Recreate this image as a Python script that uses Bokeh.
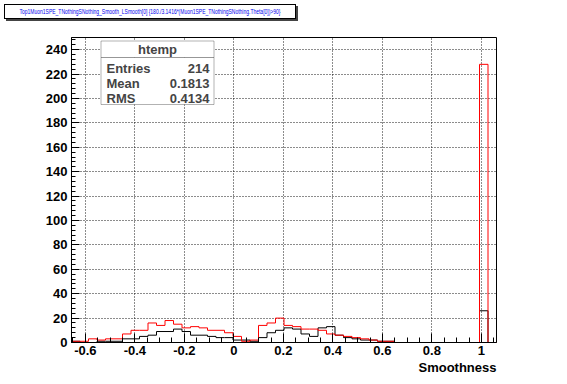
import numpy as np
from bokeh.plotting import figure
from bokeh.layouts import column
from bokeh.models import Range1d, FixedTicker, Label, BoxAnnotation, CustomJSTickFormatter, Title, Div
from bokeh.embed import file_html
from bokeh.resources import INLINE

# ---------------- data ----------------
title_text = "Top1Muon1SPE_TNothingSNothing_Smooth_LSmooth[0] {180./3.1416*(Muon1SPE_TNothingSNothing.Theta[0])>90}"
x_title = "Smoothness"
hist_min = -0.656
hist_max = 1.061
n_bins = 50
black_counts = [1, 0, 0, 1, 1, 1, 3, 3, 5, 6,
                9, 9, 11, 9, 6, 6, 5, 4, 4, 2,
                2, 1, 4, 8, 10, 12, 11, 7, 5, 12,
                13, 6, 4, 3, 2, 2, 1, 1, 0, 0,
                0, 0, 0, 0, 0, 0, 0, 0, 26, 0]
red_counts = [1, 1, 3, 2, 3, 3, 7, 10, 10, 16,
              14, 18, 15, 12, 13, 12, 10, 10, 8, 5,
              1, 2, 14, 16, 20, 14, 13, 11, 11, 10,
              7, 6, 5, 4, 3, 2, 1, 1, 0, 0,
              0, 0, 0, 0, 0, 0, 0, 0, 228, 0]
x_ticks = [-0.6, -0.4, -0.2, 0.0, 0.2, 0.4, 0.6, 0.8, 1.0]
x_tick_labels = ["-0.6", "-0.4", "-0.2", "0", "0.2", "0.4", "0.6", "0.8", "1"]
y_ticks = [0, 20, 40, 60, 80, 100, 120, 140, 160, 180, 200, 220, 240]
y_max = 250
stats_name = "htemp"
stats_keys = ["Entries", "Mean", "RMS"]
stats_vals = ["214", "0.1813", "0.4134"]

# ---------------- layout (page pixels) ----------------
W, H = 567, 384
HEAD = 35                # height of the title strip above the figure
FX0, FX1 = 71.0, 496.0   # frame left/right (page)
FY0, FY1 = 37.0, 342.0   # frame top/bottom (page)


def dx(px):
    return hist_min + (px - FX0) / (FX1 - FX0) * (hist_max - hist_min)


def dy(py):
    return y_max - (py - FY0) / (FY1 - FY0) * y_max


FONT = "Liberation Sans"

head = Div(text=(
    '<div style="position:relative;margin:4px 0 0 4px;width:292px;height:15px;'
    'border:1px solid #000;background:#fff;box-shadow:2px 2px 0 #444;">'
    '<div style="position:absolute;left:50%;top:50%;transform:translate(-50%,-50%) scale(0.43,0.56);'
    'font-family:Liberation Sans,Arial,Helvetica,sans-serif;font-size:11.6px;line-height:14px;'
    'color:#0000ee;white-space:nowrap;">' + title_text + '</div></div>'),
    width=W, height=HEAD, styles={"margin": "0", "padding": "0"})

p = figure(width=W, height=H - HEAD, x_range=Range1d(hist_min, hist_max),
           y_range=Range1d(0, y_max), output_backend="svg", toolbar_location=None,
           title=None, min_border_left=int(FX0), min_border_right=int(W - FX1),
           min_border_top=int(FY0 - HEAD), min_border_bottom=int(H - FY1))
p.background_fill_color = "white"
p.border_fill_color = "white"
p.outline_line_color = "black"
p.outline_line_width = 1

# grid
for g in (p.xgrid, p.ygrid):
    g.grid_line_color = "black"
    g.grid_line_dash = "1 2"
    g.grid_line_width = 1
    g.grid_line_alpha = 0.9

# histograms as step outlines
edges = np.linspace(hist_min, hist_max, n_bins + 1)
xs = np.concatenate([[edges[0]], edges])
for counts, col in ((black_counts, "black"), (red_counts, "#ff0000")):
    ys = np.concatenate([[0], np.array(counts, dtype=float), [0]])
    p.step(xs, ys, mode="after", line_color=col, line_width=1)

# axes
minor_x = [round(v, 3) for v in np.arange(-0.65, 1.0501, 0.05)]
p.xaxis.ticker = FixedTicker(ticks=x_ticks, minor_ticks=minor_x)
p.xaxis.formatter = CustomJSTickFormatter(args=dict(t=x_ticks, l=x_tick_labels), code="""
    for (let i = 0; i < t.length; i++) { if (Math.abs(t[i] - tick) < 1e-9) return l[i]; }
    return "";
""")
p.yaxis.ticker = FixedTicker(ticks=y_ticks, minor_ticks=list(range(0, y_max + 1, 4)))
for ax in (p.xaxis, p.yaxis):
    ax.axis_line_color = "black"
    ax.major_tick_line_color = "black"
    ax.minor_tick_line_color = "black"
    ax.major_tick_out = 0
    ax.minor_tick_out = 0
    ax.major_label_text_font = FONT
    ax.major_label_text_font_style = "bold"
    ax.major_label_text_font_size = "13px"
    ax.major_label_text_color = "black"
p.xaxis.major_tick_in = 9
p.xaxis.minor_tick_in = 5
p.yaxis.major_tick_in = 8
p.yaxis.minor_tick_in = 4
p.xaxis.major_label_standoff = 3
p.yaxis.major_label_standoff = 4

# x axis title, right aligned at the end of the axis
p.add_layout(Title(text=x_title, align="right", text_font=FONT, text_font_style="bold",
                   text_font_size="13px", text_color="black", standoff=0), "below")

# stats box
p.add_layout(BoxAnnotation(left=dx(100.5), right=dx(213.5), top=dy(40.5), bottom=dy(57),
                           fill_color="white", fill_alpha=1, line_color="black", line_width=1))
p.add_layout(BoxAnnotation(left=dx(100.5), right=dx(213.5), top=dy(57), bottom=dy(104),
                           fill_color="white", fill_alpha=1, line_color="black", line_width=1))
p.add_layout(Label(x=dx(157), y=dy(49), text=stats_name, text_align="center",
                   text_baseline="middle", text_font=FONT, text_font_style="bold",
                   text_font_size="13px"))
for i, (k, v) in enumerate(zip(stats_keys, stats_vals)):
    yy = dy(67.5 + i * 15)
    p.add_layout(Label(x=dx(106), y=yy, text=k, text_align="left", text_baseline="middle",
                       text_font=FONT, text_font_style="bold", text_font_size="13px"))
    p.add_layout(Label(x=dx(209), y=yy, text=v, text_align="right", text_baseline="middle",
                       text_font=FONT, text_font_style="bold", text_font_size="13px"))

layout = column(head, p, spacing=0)
open("out.html", "w").write(file_html(layout, INLINE))
